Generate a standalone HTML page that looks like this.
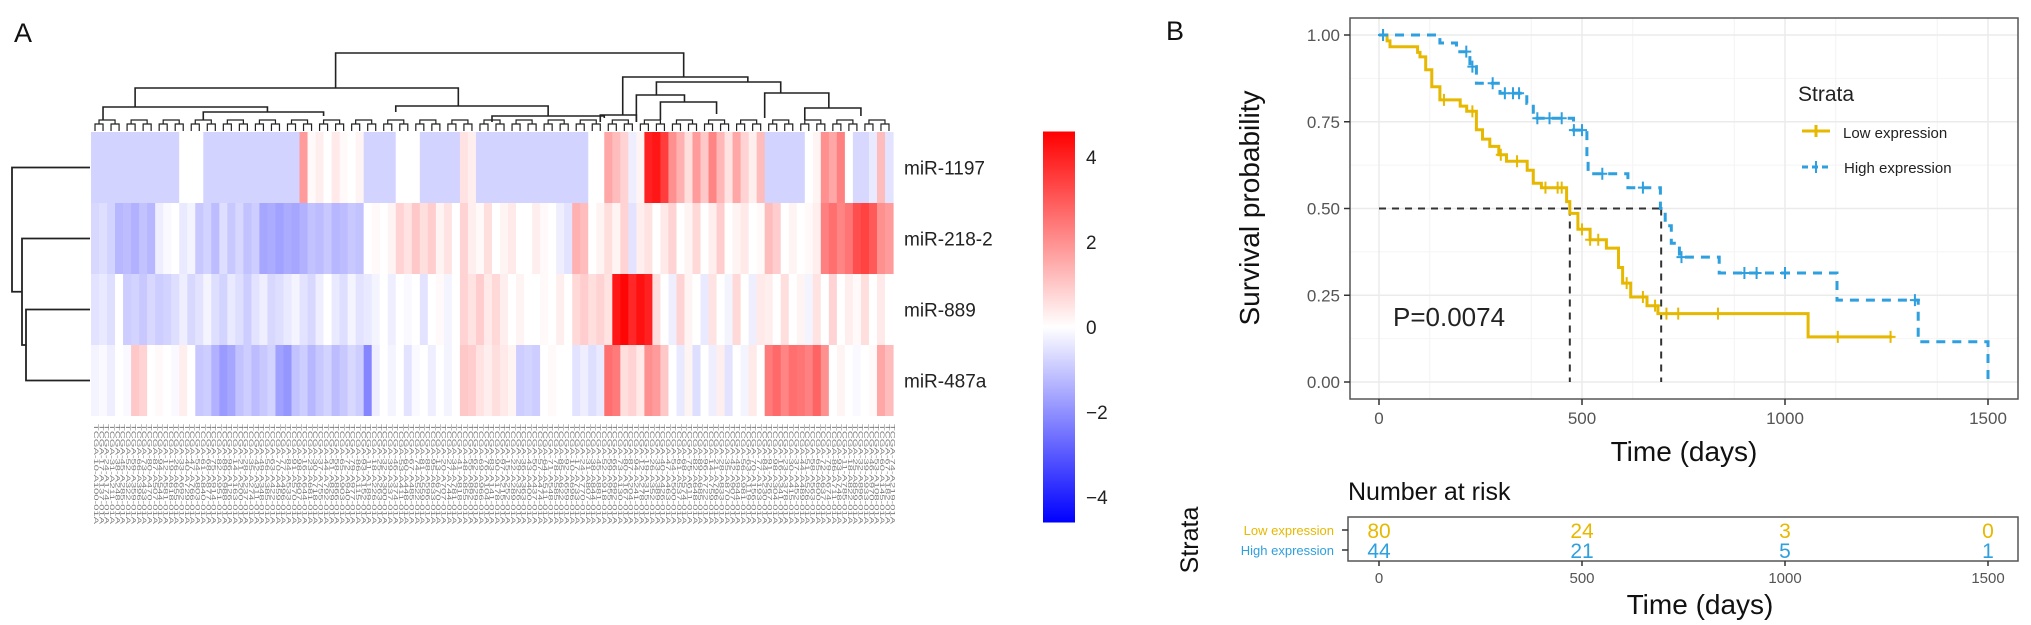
<!DOCTYPE html>
<html><head><meta charset="utf-8"><style>
body{margin:0;background:#fff;}
svg{display:block;font-family:"Liberation Sans",Arial,sans-serif;}
</style></head><body>
<svg id="fig" width="2031" height="625" viewBox="0 0 2031 625">
<text x="14" y="42" font-size="27" fill="#111">A</text>
<text x="1166" y="40" font-size="27" fill="#111">B</text>
<g id="heat"></g>
<g id="coldend" stroke="#222" stroke-width="1.6" fill="none"></g>
<g id="rowdend" stroke="#222" stroke-width="1.8" fill="none"></g>
<g id="rowlabels"></g>
<g id="collabels"></g>
<g id="cbar"></g>
<g id="km"></g>
<g id="risk"></g>
</svg>
<script>
const NS="http://www.w3.org/2000/svg";
const rowNames=["miR-1197","miR-218-2","miR-889","miR-487a"];
const row1197=[-0.8,-0.8,-0.8,-0.8,-0.8,-0.8,-0.8,-0.8,-0.8,-0.8,-0.8,0,0,0,-0.8,-0.8,-0.8,-0.8,-0.8,-0.8,-0.8,-0.8,-0.8,-0.8,-0.8,-0.8,1.8,0.1,0.3,0,0.4,0.1,0,0.2,-0.8,-0.8,-0.8,-0.8,0,0,0,-0.8,-0.8,-0.8,-0.8,-0.8,0.5,0.3,-0.8,-0.8,-0.8,-0.8,-0.8,-0.8,-0.8,-0.8,-0.8,-0.8,-0.8,-0.8,-0.8,-0.8,0,0,1.6,1.2,0.8,-0.3,0.2,4.0,4.2,3.5,2.0,1.4,0.6,1.8,1.0,2.2,1.3,0.5,1.6,0.8,0.3,1.2,-0.8,-0.8,-0.8,-0.8,-0.8,0,0.2,2.0,1.6,2.3,0,-0.7,-0.7,-0.4,1.2,-0.5];
const row2182=[-0.7,-0.6,-0.8,-1.3,-1.2,-1.4,-1.1,-1.3,-0.3,-0.1,0,-0.4,-0.2,-1.0,-0.8,-1.2,-0.6,-1.0,-0.7,-1.1,-0.9,-1.6,-1.5,-1.7,-1.5,-1.6,-1.4,-1.1,-1.2,-1.0,-1.3,-1.2,-1.0,-1.1,0,0.1,0,0.2,0.8,0.5,1.0,0.6,0.9,0.2,0.5,0,0.8,0.3,0.1,0.6,0,0.2,0.4,0,0,0.3,0.1,0,-0.3,-0.5,1.4,1.2,0,0.2,0.6,0.2,0.8,-0.5,0.3,0.5,0,0.4,0.8,0,0.2,0.7,0,0.3,0.9,0,0.2,0.4,0,0.1,1.2,0.9,0,0.2,0,0.1,0.3,2.3,2.6,2.2,2.5,3.2,3.4,3.0,2.0,1.8];
const row889=[-0.5,-0.4,-0.6,0,-0.9,-0.8,-1.0,-0.7,-0.9,-0.8,-0.6,-0.3,-0.7,-0.5,-0.2,-0.6,-0.8,-0.4,-0.6,-0.9,-0.5,-0.3,-0.7,-0.6,-0.4,-0.2,-0.5,-0.7,-0.3,0,-0.4,-0.6,-0.2,-0.5,-0.4,-0.2,0,-0.3,0,-0.1,0,-0.5,0,0.1,-0.2,0,0.8,0.5,0.9,0.4,0.7,0.3,0,0.2,0,0,0.1,0,0.3,0,0.7,0.9,0.6,0.8,0.5,4.2,4.5,3.9,4.3,4.0,0.6,0,-0.3,0.8,0.2,0,-0.4,0.5,0,-0.2,0.7,0,-0.3,0.4,0.3,0,0.6,0,0.2,-0.2,0.5,0,0.8,0,0.3,0.1,0.6,0,0.4,0];
const row487a=[-0.2,-0.1,-0.3,0,-0.1,1.0,0.8,0,0.1,0,-0.1,0.3,0,-1.0,-0.9,-1.4,-1.8,-1.6,-1.1,-0.9,-1.2,-1.0,-0.8,-1.7,-1.9,-1.1,-0.9,-1.3,-1.0,-0.8,-1.2,-1.0,-0.7,-0.9,-2.2,-0.3,0,-0.2,0,-0.5,-0.1,0,-0.3,0,-0.2,0,1.0,0.9,0.5,0.3,0.6,0.4,0.2,-0.9,-0.8,-0.9,0,0.1,0,0,-0.5,-0.3,-0.6,-0.4,2.6,2.4,0.6,0.8,0.4,2.0,1.8,1.0,0,-0.4,0.2,-0.6,0,-0.3,0.3,-0.5,0,-0.2,0.4,0,2.4,2.7,2.2,2.6,2.5,2.3,2.8,2.0,0,0.2,0,-0.1,0,0.1,1.6,1.2];
const cbarTicks=[4,2,0,-2,-4];
const lowT=[0,20,27,95,101,115,130,150,200,216,240,255,273,295,314,365,380,400,462,470,490,520,560,590,600,620,660,687,1057];
const lowS=[1.0,0.983,0.966,0.95,0.937,0.9,0.851,0.813,0.795,0.78,0.727,0.70,0.679,0.655,0.636,0.61,0.573,0.56,0.52,0.486,0.44,0.41,0.386,0.33,0.285,0.245,0.22,0.197,0.13];
const lowEnd=1263;
const highT=[0,150,191,224,240,298,364,380,479,512,515,613,693,705,720,740,838,1128,1328,1500];
const highS=[1.0,0.977,0.952,0.909,0.861,0.832,0.803,0.76,0.726,0.64,0.60,0.56,0.50,0.45,0.40,0.36,0.314,0.236,0.116,0.0];
const highEnd=1500;
const lowCens=[10,160,230,300,340,410,440,450,500,520,540,610,650,680,708,737,835,1130,1260];
const highCens=[10,215,230,280,310,330,345,390,420,450,480,500,550,650,745,900,930,1000,1320];
const medians=[470,695];
const xTicks=[0,500,1000,1500];
const yTicks=[0,0.25,0.5,0.75,1.0];
const riskLow=[80,24,3,0];
const riskHigh=[44,21,5,1];
const pLabel="P=0.0074";

function el(tag,attrs,parent,text){const e=document.createElementNS(NS,tag);for(const k in attrs)e.setAttribute(k,attrs[k]);if(text!==undefined)e.textContent=text;parent.appendChild(e);return e;}
function col(v){const t=Math.max(-1,Math.min(1,v/4.6));if(t>=0){const g=Math.round(255*(1-t));return `rgb(255,${g},${g})`;}const g=Math.round(255*(1+t));return `rgb(${g},${g},255)`;}

const HX0=91,HX1=893,HY0=132,RH=71;
const rows=[row1197,row2182,row889,row487a];
const heat=document.getElementById('heat');
const ncol=row1197.length,cw=(HX1-HX0)/ncol;
const hx=i=>HX0+i*cw;
rows.forEach((r,ri)=>{r.forEach((v,ci)=>{
 const c=el('rect',{x:hx(ci).toFixed(2),y:HY0+ri*RH,width:(cw+0.6).toFixed(2),height:RH,fill:col(v)},heat);
 
 
});});
const rl=document.getElementById('rowlabels');
rowNames.forEach((n,i)=>{const t=el('text',{x:904,y:HY0+i*RH+RH/2+7,'font-size':19,fill:'#222'},rl,n);
 
 });
const cl=document.getElementById('collabels');
for(let i=0;i<ncol*1.5;i++){const x=HX0+3+i*cw/1.5;const id="TCGA-"+(10+(i*7)%89)+"-A"+(100+(i*37)%899)+"-01A";
 const t=el('text',{x:0,y:0,transform:`translate(${x.toFixed(1)},424) rotate(90)`,'font-size':6,fill:'#7a7a7a',textLength:100,lengthAdjust:'spacingAndGlyphs'},cl,id);
 
 }
const cd=document.getElementById('coldend');
const links=[[30.5,73.9,53,88,77],[5.5,45.8,88,107,106],[66.3,81.9,77,115,82],[1.5,22,107,120,112],[38,57,106,112,116],[63.5,68,115,122,122],[70.5,86,82,95,93],[68,74,95,122,102],[84,92,93,118,108],[14,29,112,120,116],[50,64,116,122,118],[71,78,102,120,114],[89,96,108,120,116]];
links.forEach(l=>{const a=hx(l[0]),b=hx(l[1]);const p=el('path',{d:`M${a} ${l[3]}V${l[2]}H${b}V${l[4]}`},cd);
 
 });
for(let i=0;i<ncol;i+=2){const a=hx(i+0.5),b=hx(i+1.5);el('path',{d:`M${a} 131V124H${b}V131`,'stroke-width':1.2},cd);}
for(let i=0;i<ncol;i+=4){const a=hx(i+1),b=hx(i+3);el('path',{d:`M${a} 124V120H${b}V124`,'stroke-width':1.2},cd);}
const rd=document.getElementById('rowdend');
const rc=i=>HY0+i*RH+RH/2;
const m34=(rc(2)+rc(3))/2,m234=(rc(1)+m34)/2;
el('path',{d:`M${HX0-1} ${rc(2)}H26V${rc(3)}H${HX0-1}`},rd);
el('path',{d:`M${HX0-1} ${rc(1)}H22V${m34}H26`},rd);
el('path',{d:`M${HX0-1} ${rc(0)}H12V${m234}H22`},rd);
const cb=document.getElementById('cbar');
const defs=el('defs',{},cb);const lg=el('linearGradient',{id:'cg',x1:0,y1:0,x2:0,y2:1},defs);
[['0','#ff0000'],['0.5','#ffffff'],['1','#0000ff']].forEach(s=>el('stop',{offset:s[0],'stop-color':s[1]},lg));
const cbY=v=>327-v*42.5;
el('rect',{x:1043,y:cbY(4.6),width:32,height:cbY(-4.6)-cbY(4.6),fill:'url(#cg)'},cb);
cbarTicks.forEach(v=>{const t=el('text',{x:1086,y:cbY(v)+7,'font-size':19,fill:'#222'},cb,v<0?'\u2212'+(-v):String(v));
 
 });

const km=document.getElementById('km');
const X=d=>1379+d*0.406, Y=s=>382-s*347;
el('rect',{x:1350,y:18,width:668,height:381,fill:'#fff'},km);
[125,375,625,875,1125,1375].forEach(d=>el('line',{x1:X(d),x2:X(d),y1:18,y2:399,stroke:'#f4f4f4','stroke-width':1},km));
[0.125,0.375,0.625,0.875].forEach(s=>el('line',{x1:1350,x2:2018,y1:Y(s),y2:Y(s),stroke:'#f4f4f4','stroke-width':1},km));
xTicks.forEach(d=>el('line',{x1:X(d),x2:X(d),y1:18,y2:399,stroke:'#ebebeb','stroke-width':1.5},km));
yTicks.forEach(s=>el('line',{x1:1350,x2:2018,y1:Y(s),y2:Y(s),stroke:'#ebebeb','stroke-width':1.5},km));
el('rect',{x:1350,y:18,width:668,height:381,fill:'none',stroke:'#555','stroke-width':1.5},km);
yTicks.forEach(s=>{el('line',{x1:1344,x2:1350,y1:Y(s),y2:Y(s),stroke:'#333','stroke-width':1.5},km);
 const t=el('text',{x:1340,y:Y(s)+6,'font-size':17,fill:'#555','text-anchor':'end'},km,s.toFixed(2));
 
 });
xTicks.forEach(d=>{el('line',{x1:X(d),x2:X(d),y1:399,y2:405,stroke:'#333','stroke-width':1.5},km);
 const t=el('text',{x:X(d),y:424,'font-size':17,fill:'#555','text-anchor':'middle'},km,String(d));
 
 });
let t=el('text',{x:0,y:0,transform:'translate(1259,208) rotate(-90)','font-size':28,fill:'#111','text-anchor':'middle'},km,'Survival probability');

t=el('text',{x:1684,y:461,'font-size':28,fill:'#111','text-anchor':'middle'},km,'Time (days)');

el('path',{d:`M${X(0)} ${Y(0.5)}H${X(medians[1])}`,stroke:'#333','stroke-width':2,'stroke-dasharray':'7,6',fill:'none'},km);
medians.forEach(m=>el('path',{d:`M${X(m)} ${Y(0.5)}V${Y(0)}`,stroke:'#333','stroke-width':2,'stroke-dasharray':'7,6',fill:'none'},km));
function stepPath(T,S,end){let d=`M${X(T[0])} ${Y(S[0])}`;for(let i=1;i<T.length;i++){d+=`H${X(T[i]).toFixed(1)}V${Y(S[i]).toFixed(1)}`;}d+=`H${X(Math.max(end,T[T.length-1])).toFixed(1)}`;return d;}
function sAt(T,S,d){let s=S[0];for(let i=0;i<T.length;i++)if(T[i]<=d)s=S[i];return s;}
let p=el('path',{d:stepPath(lowT,lowS,lowEnd),stroke:'#E7B800','stroke-width':3,fill:'none'},km);

p=el('path',{d:stepPath(highT,highS,highEnd),stroke:'#2E9FDF','stroke-width':3,fill:'none','stroke-dasharray':'9,7'},km);

function cens(list,T,S,c,name){list.forEach(d=>{const x=X(d),y=Y(sAt(T,S,d));const m=el('path',{d:`M${x-5} ${y}H${x+5}M${x} ${y-6}V${y+6}`,stroke:c,'stroke-width':2},km);
 
 });}
cens(lowCens,lowT,lowS,'#E7B800','low-censor-mark');
cens(highCens,highT,highS,'#2E9FDF','high-censor-mark');
t=el('text',{x:1393,y:326,'font-size':26,fill:'#222'},km,pLabel);

const lgd=el('g',{},km);
el('text',{x:1798,y:101,'font-size':21,fill:'#222'},lgd,'Strata');
el('path',{d:'M1802 131H1830M1816 125V137',stroke:'#E7B800','stroke-width':3},lgd);
el('text',{x:1843,y:138,'font-size':15,fill:'#222'},lgd,'Low expression');
el('path',{d:'M1802 167H1830',stroke:'#2E9FDF','stroke-width':3,'stroke-dasharray':'6,4'},lgd);
el('path',{d:'M1816 161V173',stroke:'#2E9FDF','stroke-width':2},lgd);
el('text',{x:1844,y:173,'font-size':15,fill:'#222'},lgd,'High expression');

const rk=document.getElementById('risk');
t=el('text',{x:1348,y:500,'font-size':25,fill:'#111'},rk,'Number at risk');

el('rect',{x:1348,y:517,width:670,height:44,fill:'#fff',stroke:'#555','stroke-width':1.5},rk);
t=el('text',{x:0,y:0,transform:'translate(1198,540) rotate(-90)','font-size':25,fill:'#111','text-anchor':'middle'},rk,'Strata');

[['Low expression','#E7B800',530,riskLow],['High expression','#2E9FDF',550,riskHigh]].forEach(r=>{
 el('text',{x:1334,y:r[2]+5,'font-size':13,fill:r[1],'text-anchor':'end'},rk,r[0]);
 el('line',{x1:1342,x2:1348,y1:r[2],y2:r[2],stroke:'#333','stroke-width':1.5},rk);
 r[3].forEach((n,i)=>{const tt=el('text',{x:X(xTicks[i]),y:r[2]+8,'font-size':21,fill:r[1],'text-anchor':'middle'},rk,String(n));
  
  });
});
xTicks.forEach(d=>{el('line',{x1:X(d),x2:X(d),y1:561,y2:566,stroke:'#333','stroke-width':1.5},rk);
 el('text',{x:X(d),y:583,'font-size':15,fill:'#555','text-anchor':'middle'},rk,String(d));});
t=el('text',{x:1700,y:614,'font-size':28,fill:'#111','text-anchor':'middle'},rk,'Time (days)');

</script>
</body></html>
